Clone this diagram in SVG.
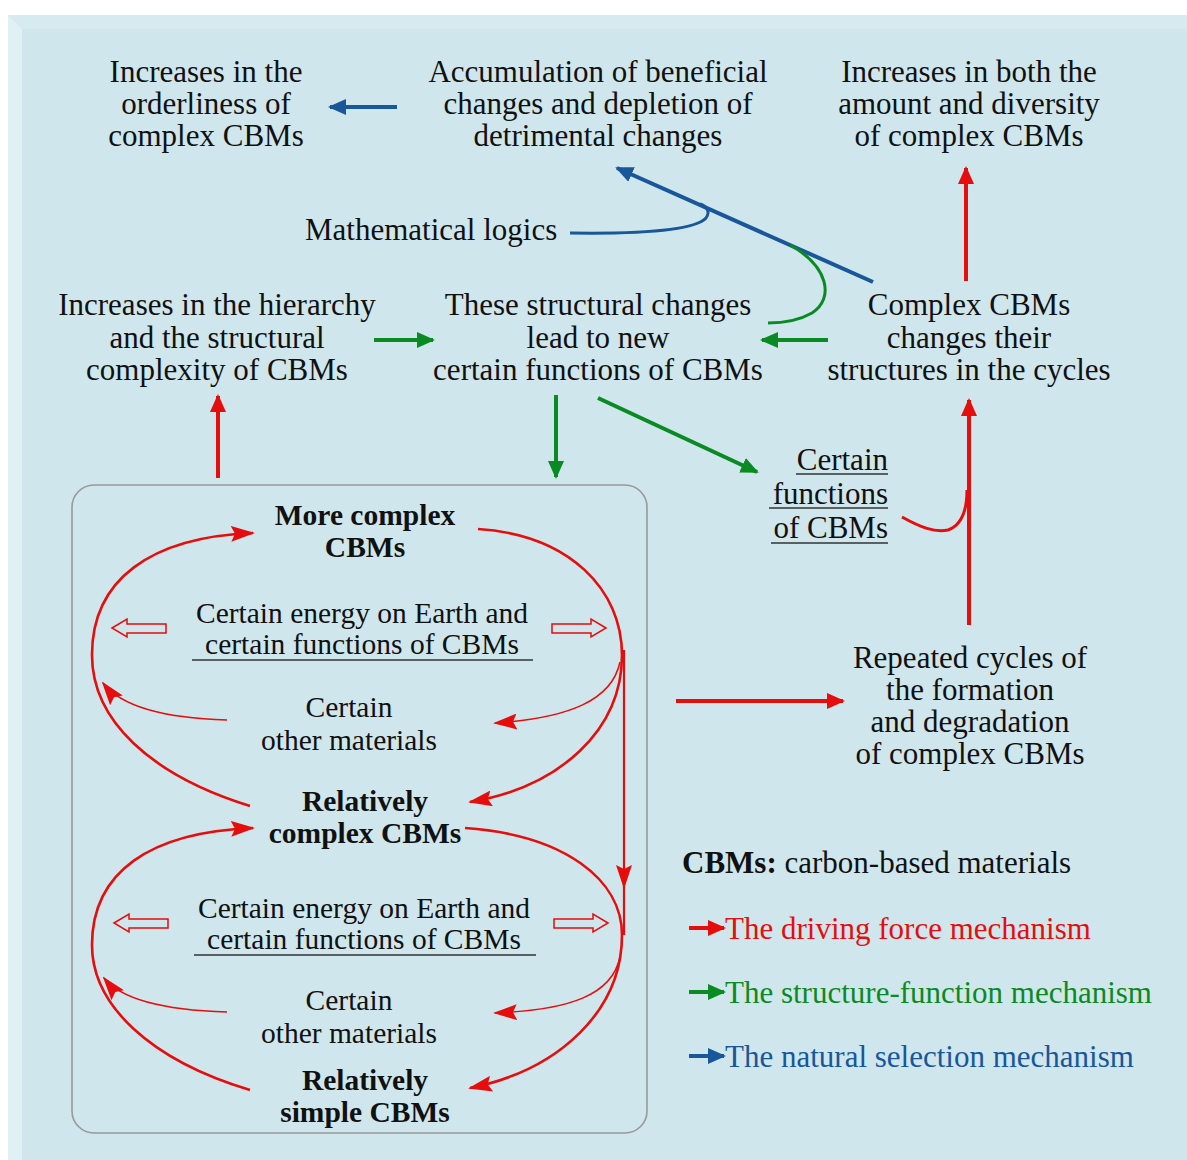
<svg xmlns="http://www.w3.org/2000/svg" width="1187" height="1160" viewBox="0 0 1187 1160">
<style>
text{font-family:"Liberation Serif","Times New Roman",serif;font-size:31px;fill:#111;text-anchor:middle}
.s{font-size:29.5px}
.b{font-weight:bold}
.l{text-anchor:start}
.r{text-anchor:end}
.red{fill:#e60d0d}.grn{fill:#0a8a22}.blu{fill:#17579a}
.ul{stroke:#333;stroke-width:1.6}
.rd{fill:none;stroke:#e60d0d}
.gr{fill:none;stroke:#0a8a22;stroke-width:4}
.bl{fill:none;stroke:#17579a;stroke-width:4}
.hol{fill:#cfe6ec;stroke:#e60d0d;stroke-width:1.5}
</style>
<defs>
<marker id="mR" markerUnits="userSpaceOnUse" markerWidth="18" markerHeight="16" refX="16" refY="8" orient="auto"><path d="M0,0 L18,8 L0,16 z" fill="#e60d0d"/></marker>
<marker id="mR2" markerUnits="userSpaceOnUse" markerWidth="24" markerHeight="16" refX="22" refY="8" orient="auto"><path d="M0,0 L24,8 L0,16 L4,8 z" fill="#e60d0d"/></marker>
<marker id="mG" markerUnits="userSpaceOnUse" markerWidth="18" markerHeight="16" refX="16" refY="8" orient="auto"><path d="M0,0 L18,8 L0,16 z" fill="#0a8a22"/></marker>
<marker id="mB" markerUnits="userSpaceOnUse" markerWidth="18" markerHeight="16" refX="16" refY="8" orient="auto"><path d="M0,0 L18,8 L0,16 z" fill="#17579a"/></marker>
</defs>
<rect width="1187" height="1160" fill="#ffffff"/>
<rect x="8" y="15" width="1179" height="1145" fill="#cfe6ec"/>
<polygon points="8,15 22,29 22,1160 8,1160" fill="#dff1f5"/>
<polygon points="8,15 1187,15 1187,29 22,29" fill="#d6ebf0"/>

<g id="n_orderliness"><text x="206" y="82">Increases in the</text><text x="206" y="114">orderliness of</text><text x="206" y="146">complex CBMs</text></g>
<g id="n_accumulation"><text x="598" y="82">Accumulation of beneficial</text><text x="598" y="114">changes and depletion of</text><text x="598" y="146">detrimental changes</text></g>
<g id="n_amount"><text x="969" y="82">Increases in both the</text><text x="969" y="114">amount and diversity</text><text x="969" y="146">of complex CBMs</text></g>
<g id="n_math"><text x="305" y="240" class="l">Mathematical  logics</text></g>
<g id="n_hierarchy"><text x="217" y="315">Increases in the hierarchy</text><text x="217" y="348">and the structural</text><text x="217" y="380">complexity of CBMs</text></g>
<g id="n_structural"><text x="598" y="315">These structural changes</text><text x="598" y="348">lead to  new</text><text x="598" y="380">certain  functions of CBMs</text></g>
<g id="n_complex"><text x="969" y="315">Complex CBMs</text><text x="969" y="348">changes their</text><text x="969" y="380">structures in the cycles</text></g>
<g id="n_functions"><text x="888" y="470" class="r">Certain</text><text x="888" y="504" class="r">functions</text><text x="888" y="538" class="r">of CBMs</text>
<line x1="796" y1="474" x2="888" y2="474" class="ul"/><line x1="769" y1="508" x2="888" y2="508" class="ul"/><line x1="771" y1="543" x2="888" y2="543" class="ul"/></g>
<g id="n_repeated"><text x="970" y="668">Repeated cycles of</text><text x="970" y="700">the formation</text><text x="970" y="732">and degradation</text><text x="970" y="764">of complex CBMs</text></g>

<g id="n_cyclebox">
<rect x="72" y="485" width="575" height="648" rx="22" fill="#cfe6ec" stroke="#999" stroke-width="1.6"/>
<text x="365" y="525" class="b s">More complex</text><text x="365" y="557" class="b s">CBMs</text>
<text x="362" y="623" class="s">Certain energy on Earth and</text><text x="362" y="654" class="s">certain  functions of CBMs</text>
<line x1="192" y1="660" x2="533" y2="660" class="ul"/>
<text x="349" y="717" class="s">Certain</text><text x="349" y="750" class="s">other materials</text>
<text x="365" y="811" class="b s">Relatively</text><text x="365" y="843" class="b s">complex CBMs</text>
<text x="364" y="918" class="s">Certain energy on Earth and</text><text x="364" y="949" class="s">certain  functions of CBMs</text>
<line x1="194" y1="955" x2="536" y2="955" class="ul"/>
<text x="349" y="1010" class="s">Certain</text><text x="349" y="1043" class="s">other materials</text>
<text x="365" y="1090" class="b s">Relatively</text><text x="365" y="1122" class="b s">simple CBMs</text>
<polygon class="hol" points="112,628 127,619 127,624 166,624 166,633 127,633 127,637"/>
<polygon class="hol" points="606,628 591,619 591,624 552,624 552,633 591,633 591,637"/>
<polygon class="hol" points="114,923 129,914 129,919 168,919 168,928 129,928 129,932"/>
<polygon class="hol" points="608,923 593,914 593,919 554,919 554,928 593,928 593,932"/>
</g>

<g id="legend">
<text x="682" y="873" class="l"><tspan class="b">CBMs:</tspan> carbon-based materials</text>
<line x1="689" y1="928" x2="724" y2="928" stroke="#e60d0d" stroke-width="4" marker-end="url(#mR)"/>
<text x="725" y="939" class="l red">The driving force mechanism</text>
<line x1="689" y1="992" x2="724" y2="992" stroke="#0a8a22" stroke-width="4" marker-end="url(#mG)"/>
<text x="725" y="1003" class="l grn">The structure-function mechanism</text>
<line x1="689" y1="1056" x2="724" y2="1056" stroke="#17579a" stroke-width="4" marker-end="url(#mB)"/>
<text x="725" y="1067" class="l blu">The natural selection mechanism</text>
</g>

<g id="connectors">
<line x1="397" y1="107" x2="330" y2="107" class="bl" marker-end="url(#mB)"/>
<line x1="873" y1="282" x2="617" y2="168" class="bl" marker-end="url(#mB)"/>
<path d="M570,233 C640,234 695,230 706,218 C711,211 706,206 700,204" fill="none" stroke="#17579a" stroke-width="3"/>
<path d="M790,245 C828,266 835,298 812,313 C798,321 783,323 768,323" fill="none" stroke="#0a8a22" stroke-width="3"/>
<line x1="828" y1="340" x2="762" y2="340" class="gr" marker-end="url(#mG)"/>
<line x1="374" y1="340" x2="433" y2="340" class="gr" marker-end="url(#mG)"/>
<line x1="556" y1="395" x2="556" y2="477" class="gr" marker-end="url(#mG)"/>
<line x1="598" y1="398" x2="757" y2="472" class="gr" marker-end="url(#mG)"/>
<line x1="218" y1="478" x2="218" y2="396" class="rd" stroke-width="4" marker-end="url(#mR)"/>
<line x1="966" y1="281" x2="966" y2="168" class="rd" stroke-width="4" marker-end="url(#mR)"/>
<line x1="969" y1="625" x2="969" y2="400" class="rd" stroke-width="4" marker-end="url(#mR)"/>
<path d="M902,517 C920,527 935,533 948,530 C962,525 967,510 967,490" class="rd" stroke-width="3"/>
<line x1="676" y1="701" x2="843" y2="701" class="rd" stroke-width="4" marker-end="url(#mR)"/>
<path d="M250,806 C150,775 92,720 92,655 C92,580 150,537 253,533" class="rd" stroke-width="2.6" marker-end="url(#mR2)"/>
<path d="M478,529 C570,535 622,590 622,655 C622,730 560,787 470,802" class="rd" stroke-width="2.6" marker-end="url(#mR2)"/>
<line x1="624" y1="650" x2="624" y2="887" class="rd" stroke-width="2.2" marker-end="url(#mR2)"/>
<line x1="624" y1="880" x2="624" y2="935" class="rd" stroke-width="2.2"/>
<path d="M227,720 C160,718 120,705 103,683" class="rd" stroke-width="1.5" marker-end="url(#mR2)"/>
<path d="M620,662 C612,700 570,718 495,723" class="rd" stroke-width="1.5" marker-end="url(#mR2)"/>
<path d="M250,1090 C150,1060 92,1005 92,945 C92,872 150,832 253,828" class="rd" stroke-width="2.6" marker-end="url(#mR2)"/>
<path d="M465,828 C565,835 622,880 622,935 C622,1010 560,1070 470,1088" class="rd" stroke-width="2.6" marker-end="url(#mR2)"/>
<path d="M227,1012 C160,1010 120,998 104,978" class="rd" stroke-width="1.5" marker-end="url(#mR2)"/>
<path d="M620,957 C612,995 570,1010 495,1013" class="rd" stroke-width="1.5" marker-end="url(#mR2)"/>
</g>
</svg>
